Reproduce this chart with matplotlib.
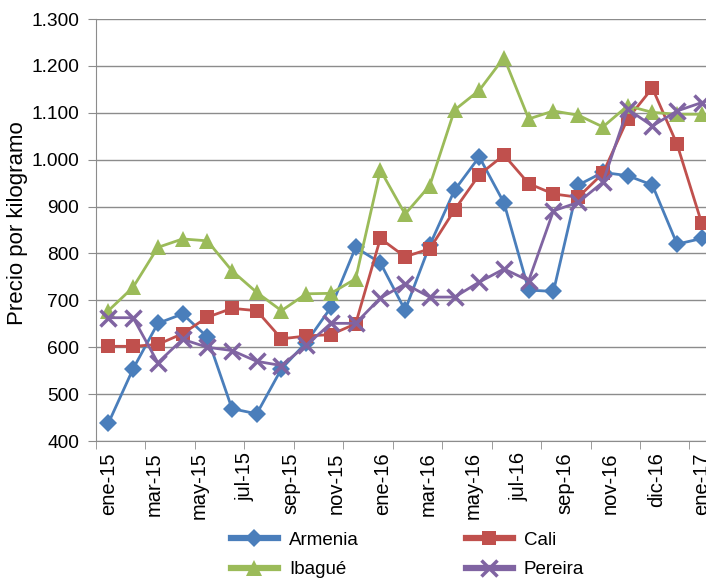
import numpy as np
import matplotlib.pyplot as plt
from matplotlib.lines import Line2D

plt.rcParams['font.family'] = ['Liberation Sans', 'DejaVu Sans']

# 25 observations, labels shown on the axis
n_points = 25
x_labels = ["ene-15", "mar-15", "may-15", "jul-15", "sep-15", "nov-15", "ene-16",
            "mar-16", "may-16", "jul-16", "sep-16", "nov-16", "dic-16", "ene-17"]

armenia = [438, 554, 651, 671, 622, 469, 458, 554, 610, 685, 813, 780,
           679, 818, 935, 1006, 908, 722, 719, 946, 973, 966, 946, 820, 832]
cali = [602, 602, 606, 629, 664, 683, 678, 618, 624, 627, 650, 832,
        793, 810, 893, 968, 1010, 949, 927, 920, 971, 1087, 1153, 1033, 864]
ibague = [678, 728, 813, 831, 827, 763, 717, 678, 714, 715, 746, 978,
          884, 945, 1106, 1148, 1218, 1087, 1104, 1095, 1070, 1115, 1101, 1097, 1097]
pereira = [663, 663, 567, 617, 600, 593, 570, 561, 604, 651, 651, 705,
           735, 707, 707, 739, 767, 742, 891, 909, 952, 1108, 1072, 1104, 1122]

series = [
    ("Armenia", armenia, "#4A7EBB", "D", 9.5),
    ("Cali", cali, "#C0504D", "s", 10.5),
    ("Ibagué", ibague, "#9BBB59", "^", 11),
    ("Pereira", pereira, "#8064A2", "x", 11),
]

fig = plt.figure(figsize=(7.06, 5.78), dpi=100)
ax = fig.add_axes([0.136, 0.237, 0.864, 0.730])

x = np.arange(n_points)
handles = {}
for name, vals, color, marker, ms in series:
    mew = 2.5 if marker == "x" else 0
    ax.plot(x, vals, color=color, lw=2, marker=marker, markersize=ms,
            markeredgewidth=mew, markeredgecolor=color, zorder=3)
    handles[name] = Line2D([], [], color=color, lw=4.5, marker=marker,
                           markersize=ms, markeredgewidth=mew,
                           markeredgecolor=color)

ax.set_ylim(400, 1300)
ax.set_yticks(range(400, 1301, 100))
ax.set_yticklabels([f"{v:,}".replace(",", ".") for v in range(400, 1301, 100)])
ax.grid(axis="y", color="#8C8C8C", lw=1)
ax.set_axisbelow(True)

ax.set_xlim(-0.5, 24.17)
ax.set_xticks(np.linspace(0, 24, len(x_labels)))
ax.set_xticklabels(x_labels, rotation=90)
ax.set_xticks(np.arange(-0.5, 24, 2), minor=True)
ax.tick_params(axis="x", which="major", length=0, pad=8, labelsize=14.5)
ax.tick_params(axis="x", which="minor", length=6, color="#8C8C8C")
ax.tick_params(axis="y", length=6, color="#8C8C8C", labelsize=13.8, pad=6)

for side in ("top", "right"):
    ax.spines[side].set_visible(False)
for side in ("left", "bottom"):
    ax.spines[side].set_color("#8C8C8C")

ax.set_ylabel("Precio por kilogramo", fontsize=16)
ax.yaxis.set_label_coords(-0.111, 0.517)

order = ["Armenia", "Ibagué", "Cali", "Pereira"]
fig.legend([handles[k] for k in order], order, ncol=2, frameon=False,
           loc="lower left", bbox_to_anchor=(0.303, -0.030), fontsize=13.5,
           handlelength=2.5, columnspacing=5.7, labelspacing=0.66,
           handletextpad=0.6)

fig.savefig("out.png", dpi=100)
